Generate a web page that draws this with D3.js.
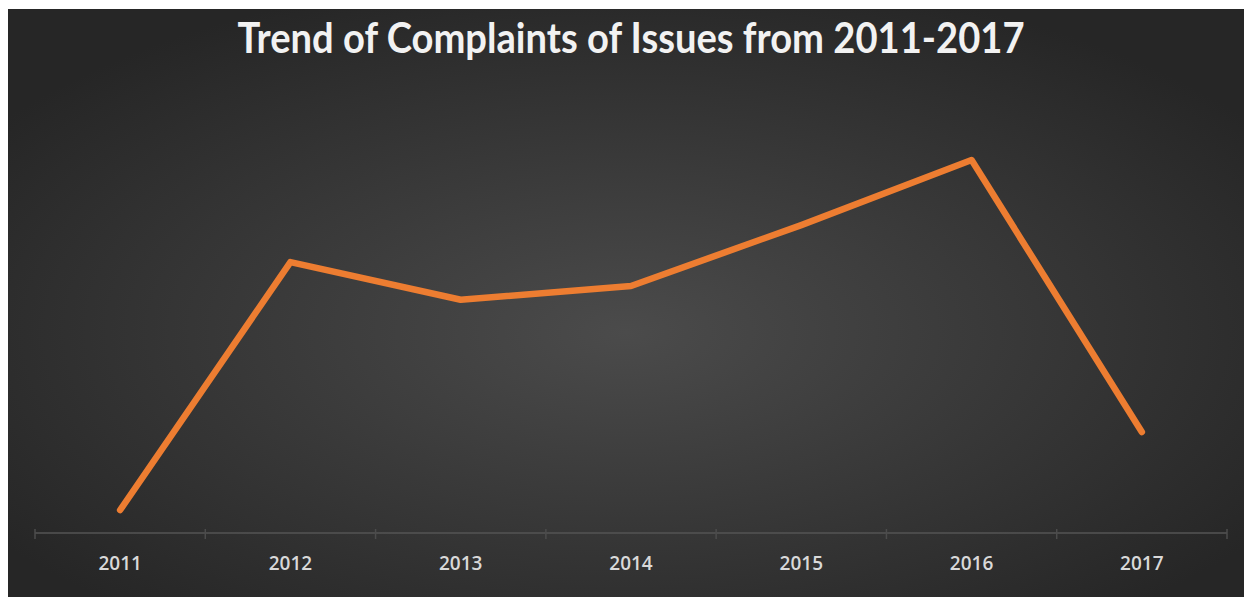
<!DOCTYPE html>
<html>
<head>
<meta charset="utf-8">
<script src="https://cdn.jsdelivr.net/npm/d3@7"></script>
<style>
  html, body { margin: 0; padding: 0; background: #ffffff; }
  svg { display: block; }
</style>
</head>
<body>
<script>
// Complaint counts per year
const years = ["2011", "2012", "2013", "2014", "2015", "2016", "2017"];
const complaints = [10.5, 123.7, 106.5, 112.8, 140.6, 170.3, 46.1];
const titleText = "Trend of Complaints of Issues from 2011-2017";

const W = 1244, H = 597;
const svg = d3.select("body").append("svg").attr("width", W).attr("height", H);

// Radial background, lighter towards the centre
const defs = svg.append("defs");
const grad = defs.append("radialGradient")
  .attr("id", "bg").attr("cx", "50%").attr("cy", "55%").attr("r", "62%");
grad.append("stop").attr("offset", "0%").attr("stop-color", "#4b4b4b");
grad.append("stop").attr("offset", "100%").attr("stop-color", "#262626");

svg.append("rect").attr("x", 8).attr("y", 9).attr("width", W - 8).attr("height", H - 9)
  .attr("fill", "url(#bg)");

// Title
svg.append("text")
  .attr("x", 631).attr("y", 53)
  .attr("text-anchor", "middle")
  .attr("font-family", "Lato, 'Open Sans', sans-serif")
  .attr("font-weight", "bold")
  .attr("font-size", 42)
  .attr("fill", "#f2f2f2")
  .attr("textLength", 787)
  .attr("lengthAdjust", "spacingAndGlyphs")
  .text(titleText);

// Scales
const x = d3.scaleBand().domain(years).range([35, 1227]);
const y = d3.scaleLinear().domain([0, 200]).range([533, 95]);

// Category axis along the bottom
const axisG = svg.append("g").attr("transform", "translate(0,533)");
axisG.append("line")
  .attr("x1", x.range()[0]).attr("x2", x.range()[1])
  .attr("stroke", "#555555").attr("stroke-width", 1.5);

const boundaries = years.map(d => x(d)).concat([x.range()[1]]);
axisG.selectAll("line.tick").data(boundaries).join("line")
  .attr("class", "tick")
  .attr("x1", d => d).attr("x2", d => d)
  .attr("y1", -4).attr("y2", 6)
  .attr("stroke", "#4c4c4c").attr("stroke-width", 1.5);

axisG.selectAll("text.lbl").data(years).join("text")
  .attr("class", "lbl")
  .attr("x", d => x(d) + x.bandwidth() / 2)
  .attr("y", 37)
  .attr("text-anchor", "middle")
  .attr("font-family", "'Open Sans', Lato, sans-serif")
  .attr("font-weight", 600)
  .attr("font-size", 19)
  .attr("fill", "#d9d9d9")
  .text(d => d);

// Trend line
const line = d3.line()
  .x((d, i) => x(years[i]) + x.bandwidth() / 2)
  .y(d => y(d));

svg.append("path")
  .datum(complaints)
  .attr("d", line)
  .attr("fill", "none")
  .attr("stroke", "#ed7d31")
  .attr("stroke-width", 6.5)
  .attr("stroke-linejoin", "round")
  .attr("stroke-linecap", "round");
</script>
</body>
</html>
